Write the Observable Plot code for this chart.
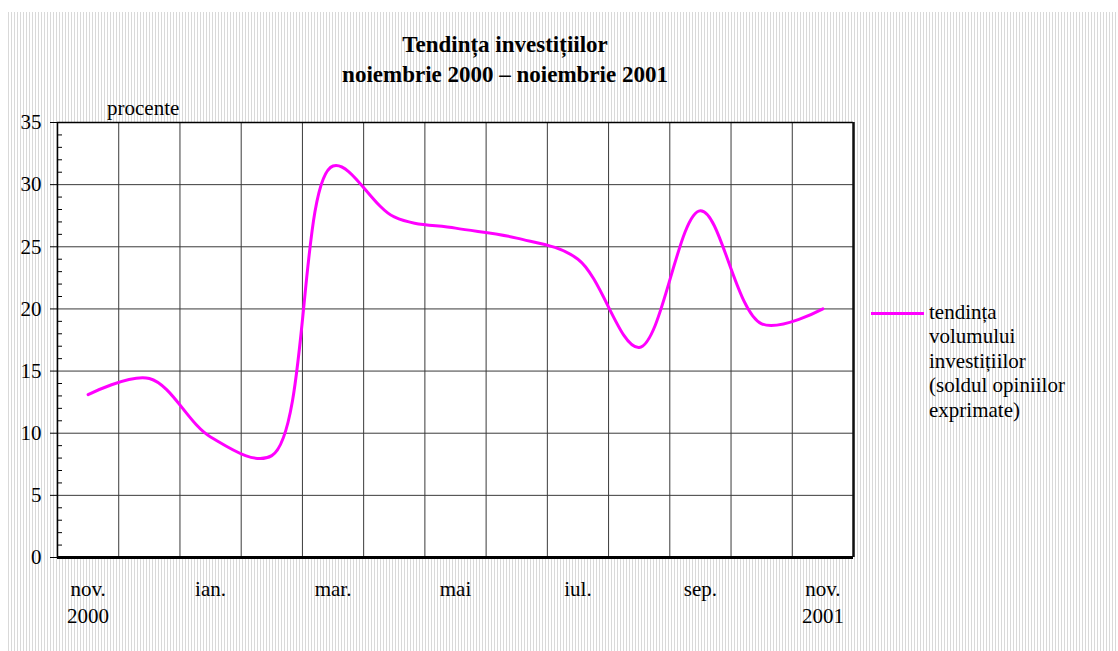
<!DOCTYPE html>
<html>
<head>
<meta charset="utf-8">
<script src="https://cdn.jsdelivr.net/npm/d3@7"></script>
<script src="https://cdn.jsdelivr.net/npm/@observablehq/plot@0.6"></script>
<style>
  html, body { margin: 0; padding: 0; background: #fff; }
  #wrap { position: relative; width: 1118px; height: 651px; overflow: hidden; font-family: "Liberation Serif", "Times New Roman", serif; }
  #bg { position: absolute; left: 8px; top: 12px; right: 0; bottom: 0;
        background-color: #fff;
        background-image: repeating-linear-gradient(90deg, #d9d9d9 0 1px, #ffffff 1px 3px); }
  #title { position: absolute; left: 0; width: 1010px; top: 30px; text-align: center; font-weight: bold; font-size: 23px; line-height: 30px; color: #000; }
  #unit { position: absolute; left: 107px; top: 96px; font-size: 21px; line-height: 24px; color: #000; }
  #chart { position: absolute; left: 0; top: 0; }
  #legend { position: absolute; left: 871px; top: 299.5px; font-size: 21px; line-height: 24.5px; color: #000; }
  #legend .sw { position: absolute; left: 0; top: 12px; width: 53px; height: 0; border-top: 3px solid #ff00ff; }
  #legend .tx { position: absolute; left: 58px; top: 0; white-space: nowrap; }
</style>
</head>
<body>
<div id="wrap">
  <div id="bg"></div>
  <div id="title">Tendința investițiilor<br>noiembrie 2000 – noiembrie 2001</div>
  <div id="unit">procente</div>
  <div id="chart"></div>
  <div id="legend"><div class="sw"></div><div class="tx"></div></div>
</div>
<script>
// Data
const months = ["nov. 2000","dec.","ian.","feb.","mar.","apr.","mai","iun.","iul.","aug.","sep.","oct.","nov. 2001"];
const values = [13.1, 14.4, 9.7, 8.2, 31.5, 27.4, 26.5, 25.7, 24.0, 16.9, 27.9, 18.8, 20.0];
const tickLabels = ["nov.\n2000","","ian.","","mar.","","mai","","iul.","","sep.","","nov.\n2001"];
const yMajor = [0, 5, 10, 15, 20, 25, 30, 35];
const seriesName = ["tendința", "volumului", "investițiilor", "(soldul opiniilor", "exprimate)"];

const data = months.map((m, i) => ({month: m, idx: i + 0.5, value: values[i]}));
const bandEdges = d3.range(0, months.length + 1);
const bandCenters = months.map((m, i) => i + 0.5);
const yMinor = d3.range(0, 36).filter(v => v % 5 !== 0);
const gridY = yMajor.filter(v => v > 0 && v < 35);
const gridX = bandEdges.filter(v => v > 0 && v < months.length);

const chart = Plot.plot({
  width: 860,
  height: 651,
  marginLeft: 57,
  marginRight: 7,
  marginTop: 122,
  marginBottom: 94,
  style: {background: "transparent", fontFamily: "Liberation Serif, Times New Roman, serif", fontSize: "21px", color: "#000"},
  x: {domain: [0, months.length], axis: null},
  y: {domain: [0, 35], axis: null},
  marks: [
    Plot.frame({fill: "#fff", stroke: null}),
    Plot.ruleY(gridY, {stroke: "#3a3a3a", strokeWidth: 1, strokeOpacity: 1}),
    Plot.ruleX(gridX, {stroke: "#3a3a3a", strokeWidth: 1, strokeOpacity: 1}),
    Plot.ruleY([35], {stroke: "#000", strokeWidth: 1.5}),
    Plot.ruleX([months.length], {stroke: "#111", strokeWidth: 2.5}),
    Plot.ruleX([0], {stroke: "#000", strokeWidth: 1.5}),
    Plot.axisY(yMinor, {anchor: "left", label: null, tickSize: -5, tickFormat: () => "", stroke: "#000"}),
    Plot.axisY(yMajor, {anchor: "left", label: null, tickSize: 7, tickPadding: 9, fontSize: 21, stroke: "#000", fill: "#000"}),
    Plot.axisX(bandCenters, {anchor: "bottom", label: null, tickSize: 0, tickPadding: 19, fontSize: 21, lineHeight: 1.3, fill: "#000",
      tickFormat: (d) => tickLabels[Math.round(d - 0.5)]}),
    Plot.line(data, {x: "idx", y: "value", stroke: "#ff00ff", strokeWidth: 3, curve: "catmull-rom"}),
    Plot.ruleY([0], {stroke: "#000", strokeWidth: 3})
  ]
});
document.getElementById("chart").appendChild(chart);
document.querySelector("#legend .tx").innerHTML = seriesName.join("<br>");
</script>
</body>
</html>
